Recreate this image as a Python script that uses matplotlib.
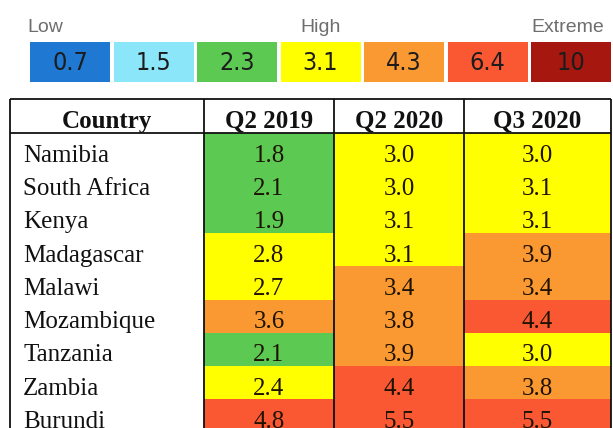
import matplotlib
matplotlib.use('Agg')
import matplotlib.pyplot as plt
from matplotlib.patches import Rectangle
from matplotlib import font_manager
import numpy as np

# ---- data ----
legend_levels = [0.7, 1.5, 2.3, 3.1, 4.3, 6.4, 10]
legend_labels = ['0.7', '1.5', '2.3', '3.1', '4.3', '6.4', '10']
legend_colors = ['#1f78d1', '#8ce6fa', '#5cc953', '#ffff00', '#fa9832', '#f95833', '#a5170f']
scale_words = ['Low', 'High', 'Extreme']
columns = ['Country', 'Q2 2019', 'Q2 2020', 'Q3 2020']
countries = ['Namibia', 'South Africa', 'Kenya', 'Madagascar', 'Malawi',
             'Mozambique', 'Tanzania', 'Zambia', 'Burundi']
q2_2019 = [1.8, 2.1, 1.9, 2.8, 2.7, 3.6, 2.1, 2.4, 4.8]
q2_2020 = [3.0, 3.0, 3.1, 3.1, 3.4, 3.8, 3.9, 4.4, 5.5]
q3_2020 = [3.0, 3.1, 3.1, 3.9, 3.4, 4.4, 3.0, 3.8, 5.5]

# ---- fonts ----
cond_file = None
for f in font_manager.fontManager.ttflist:
    p = f.fname.lower()
    if ('narrow' in p or 'condensed' in p) and 'sans' in p and 'bold' not in p \
            and 'oblique' not in p and 'italic' not in p:
        cond_file = f.fname
        break
if cond_file:
    legend_font = font_manager.FontProperties(fname=cond_file, size=18)
else:
    legend_font = font_manager.FontProperties(family='Liberation Sans', size=17)
serif = ['Liberation Serif', 'DejaVu Serif']

fig = plt.figure(figsize=(6.13, 4.28), dpi=100)
ax = fig.add_axes([0, 0, 1, 1])
ax.set_xlim(0, 613)
ax.set_ylim(428, 0)
ax.axis('off')

# ---- legend scale ----
lx0, lw, lgap, ly0, ly1 = 30, 80, 3.5, 42, 82
for i, (lab, col) in enumerate(zip(legend_labels, legend_colors)):
    x = lx0 + i * (lw + lgap)
    ax.add_patch(Rectangle((x, ly0), lw, ly1 - ly0, facecolor=col, edgecolor='none'))
    ax.text(x + lw / 2, (ly0 + ly1) / 2 + 1, lab, ha='center', va='center',
            fontproperties=legend_font, color='#1c1c1c')

word_x = [27, 300, 531]
for w, x in zip(scale_words, word_x):
    ax.text(x, 32, w, ha='left', va='baseline', fontsize=14,
            family='Liberation Sans', color='#6e6e6e')

# ---- table ----
col_edges = [10, 204, 334, 464, 611]
head_top, head_bot = 99, 133
row_h = 33.3
series = [q2_2019, q2_2020, q3_2020]
levels = np.array(legend_levels)

for j, vals in enumerate(series):
    x0, x1 = col_edges[j + 1], col_edges[j + 2]
    for i, v in enumerate(vals):
        idx = int(np.searchsorted(levels, v, side='left'))
        y = head_bot + i * row_h
        ax.add_patch(Rectangle((x0, y), x1 - x0, row_h,
                               facecolor=legend_colors[idx], edgecolor='none'))
        ax.text((x0 + x1) / 2, y + row_h / 2 + 12, f'{v:.1f}', ha='center',
                va='baseline', fontsize=18, family=serif, color='#1e1200')

for i, c in enumerate(countries):
    y = head_bot + i * row_h
    ax.text(23, y + row_h / 2 + 12, c, ha='left', va='baseline', fontsize=18,
            family=serif, color='#111111')

for j, c in enumerate(columns):
    x0, x1 = col_edges[j], col_edges[j + 1]
    ax.text((x0 + x1) / 2, (head_top + head_bot) / 2 + 12, c, ha='center',
            va='baseline', fontsize=18, family=serif, fontweight='bold',
            color='#111111')

# grid lines
line_kw = dict(color='#111111', lw=1.3, solid_capstyle='butt')
ax.plot([col_edges[0], col_edges[-1]], [head_top, head_top], **line_kw)
ax.plot([col_edges[0], col_edges[-1]], [head_bot, head_bot], **line_kw)
for x in col_edges:
    ax.plot([x, x], [head_top, 440], **line_kw)

fig.savefig('out.png', dpi=100, facecolor='white')
